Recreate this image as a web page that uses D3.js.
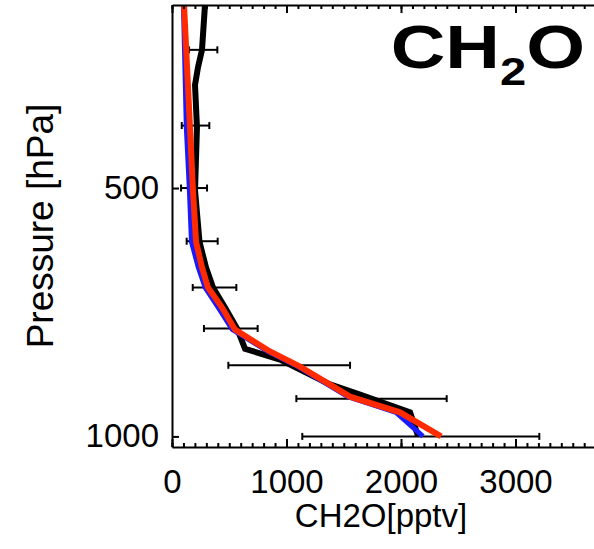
<!DOCTYPE html>
<html>
<head>
<meta charset="utf-8">
<script src="https://cdn.jsdelivr.net/npm/d3@7"></script>
<style>
  html, body { margin: 0; padding: 0; background: #fff; }
  svg { display: block; }
  text { font-family: "Liberation Sans", Arial, Helvetica, sans-serif; }
</style>
</head>
<body>
<svg id="chart" width="594" height="549"></svg>
<script>
// ---------- data ----------
// observation error bars (pressure levels, hPa) with low/high ends (pptv)
const obsLevels = [340, 420, 500, 580, 660, 740, 820, 900, 1000];
const errLow    = [148,  85,  79, 128, 181, 279, 492, 1086, 1138];
const errHigh   = [396, 326, 306, 399, 562, 748, 1555, 2399, 3208];

// observed profile (black)
const obsP   = [300, 340, 357, 375, 422, 503, 581, 624, 660, 698, 740, 783, 807, 865, 890, 935, 1000];
const obsVal = [288, 262, 227, 201, 218, 201, 240, 297, 358, 463, 568, 638, 943, 1380, 1642, 2079, 2150];

// model profile 1 (blue)
const modP     = [300, 422, 503, 581, 624, 660, 698, 742, 789, 823, 895, 935, 1000];
const blueVal  = [100, 125, 152, 170, 230, 290, 405, 526, 840, 1100, 1537, 1956, 2192];
// model profile 2 (red)
const redVal   = [105, 157, 183, 210, 262, 314, 437, 550, 856, 1118, 1555, 1991, 2350];

const xTicksMajor = [0, 1000, 2000, 3000];
const yTicks = [500, 1000];
const xLabel = "CH2O[pptv]";
const yLabel = "Pressure [hPa]";

// ---------- layout ----------
const svg = d3.select("#chart");
const mLeft = 172, mBottom = 447, mTop = 5;

const x = d3.scaleLinear().domain([0, 3700]).range([mLeft, mLeft + 3700 * 0.1145]);
const y = d3.scaleLog().domain([1030, 300]).range([mBottom, mTop]);

// error bars
const eb = svg.append("g").attr("stroke", "#000").attr("stroke-width", 2).attr("fill", "none");
obsLevels.forEach((p, i) => {
  const yy = y(p);
  eb.append("line").attr("x1", x(errLow[i])).attr("x2", x(errHigh[i])).attr("y1", yy).attr("y2", yy);
  eb.append("line").attr("x1", x(errLow[i])).attr("x2", x(errLow[i])).attr("y1", yy - 3.5).attr("y2", yy + 3.5);
  eb.append("line").attr("x1", x(errHigh[i])).attr("x2", x(errHigh[i])).attr("y1", yy - 3.5).attr("y2", yy + 3.5);
});

// profiles
const line = d3.line().x(d => x(d[0])).y(d => y(d[1]));
function profile(vals, ps, color, w) {
  svg.append("path")
    .datum(vals.map((v, i) => [v, ps[i]]))
    .attr("d", line)
    .attr("fill", "none")
    .attr("stroke", color)
    .attr("stroke-width", w)
    .attr("stroke-linejoin", "miter");
}
profile(obsVal, obsP, "#000", 6);
profile(blueVal, modP, "#1a1aff", 5);
profile(redVal, modP, "#ff2a00", 6);

// axes
const fs = 33;
function styleAxis(g) {
  g.select(".domain").attr("stroke", "#000").attr("stroke-width", 2);
  g.selectAll(".tick line").attr("stroke", "#000").attr("stroke-width", 2);
  g.selectAll("text").attr("font-size", fs).attr("fill", "#000")
    .attr("font-family", "'Liberation Sans', Arial, Helvetica, sans-serif");
}
const minor = d3.range(0, 3701, 100);

const gb = svg.append("g").attr("transform", `translate(0,${mBottom})`)
  .call(d3.axisBottom(x).tickValues(minor).tickSizeInner(-4).tickSizeOuter(0).tickFormat(""));
styleAxis(gb);
const gb2 = svg.append("g").attr("transform", `translate(0,${mBottom})`)
  .call(d3.axisBottom(x).tickValues(xTicksMajor).tickSizeInner(-8).tickSizeOuter(0).tickPadding(23).tickFormat(d3.format("d")));
styleAxis(gb2);
gb2.select(".domain").remove();

const gt = svg.append("g").attr("transform", `translate(0,${mTop})`)
  .call(d3.axisTop(x).tickValues(minor).tickSizeInner(-4).tickSizeOuter(0).tickFormat(""));
styleAxis(gt);
const gt2 = svg.append("g").attr("transform", `translate(0,${mTop})`)
  .call(d3.axisTop(x).tickValues(xTicksMajor).tickSizeInner(-8).tickSizeOuter(0).tickFormat(""));
styleAxis(gt2);
gt2.select(".domain").remove();

const gl = svg.append("g").attr("transform", `translate(${mLeft},0)`)
  .call(d3.axisLeft(y).tickValues(yTicks).tickSizeInner(-7).tickSizeOuter(0).tickPadding(13).tickFormat(d3.format("d")));
styleAxis(gl);

// axis titles
svg.append("text").attr("x", 381).attr("y", 527).attr("text-anchor", "middle")
  .attr("font-size", 33).attr("fill", "#000").text(xLabel);
svg.append("text").attr("transform", "translate(53,226) rotate(-90)").attr("text-anchor", "middle")
  .attr("font-size", 37).attr("fill", "#000").text(yLabel);

// title CH2O
const t = svg.append("text").attr("transform", "translate(585,68) scale(1.24,1)").attr("text-anchor", "end")
  .attr("font-family", "'Open Sans', sans-serif").attr("font-weight", "bold").attr("fill", "#000");
t.append("tspan").attr("font-size", 61).text("CH");
t.append("tspan").attr("font-size", 38).attr("dy", 17).text("2");
t.append("tspan").attr("font-size", 61).attr("dy", -17).text("O");
</script>
</body>
</html>
